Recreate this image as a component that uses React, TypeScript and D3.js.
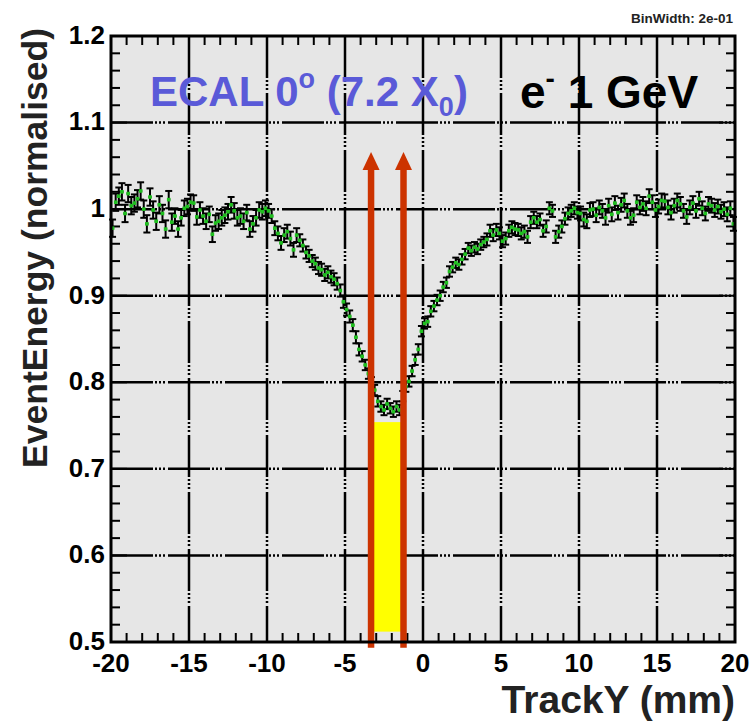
import { useEffect, useRef } from "react";
import * as d3 from "d3";

// bins of 0.2 mm from -20 to 20
const binWidth = 0.2;
const xDomain = [-20, 20];
const yDomain = [0.5, 1.2];

// normalised event energy per bin
const energy = [
  0.978, 1.008, 1.015, 1.020, 0.995, 1.018, 1.004, 1.007, 1.012, 1.021,
  1.000, 0.983, 1.014, 0.999, 0.986, 1.005, 0.995, 0.977, 1.011, 0.985,
  0.992, 0.977, 0.990, 1.001, 1.003, 1.008, 1.007, 0.991, 0.999, 0.992,
  0.986, 0.994, 0.971, 0.984, 0.986, 0.990, 0.993, 0.997, 1.005, 0.998,
  0.990, 0.992, 0.986, 0.996, 0.977, 0.983, 0.990, 0.999, 0.997, 1.001,
  0.998, 0.992, 0.978, 0.972, 0.961, 0.970, 0.974, 0.966, 0.953, 0.970,
  0.964, 0.958, 0.950, 0.946, 0.940, 0.937, 0.932, 0.930, 0.924, 0.927,
  0.922, 0.919, 0.914, 0.906, 0.893, 0.884, 0.876, 0.866, 0.852, 0.838,
  0.830, 0.820, 0.810, 0.800, 0.791, 0.778, 0.772, 0.768, 0.775, 0.770,
  0.766, 0.772, 0.768, 0.784, 0.795, 0.801, 0.813, 0.826, 0.838, 0.859,
  0.868, 0.870, 0.882, 0.888, 0.895, 0.900, 0.910, 0.915, 0.928, 0.933,
  0.938, 0.936, 0.942, 0.948, 0.955, 0.952, 0.956, 0.954, 0.959, 0.962,
  0.965, 0.975, 0.970, 0.976, 0.972, 0.963, 0.966, 0.975, 0.979, 0.977,
  0.976, 0.972, 0.974, 0.968, 0.985, 0.990, 0.985, 0.988, 0.975, 0.980,
  1.001, 0.998, 0.968, 0.974, 0.980, 0.989, 0.995, 0.998, 1.001, 0.996,
  0.995, 0.988, 0.986, 0.999, 1.000, 0.993, 1.002, 0.998, 0.990, 1.004,
  0.994, 1.007, 0.996, 1.005, 1.010, 0.998, 0.990, 0.993, 1.008, 1.002,
  1.006, 1.001, 1.015, 1.008, 0.999, 1.003, 1.010, 1.009, 1.002, 0.996,
  1.004, 1.010, 1.006, 0.998, 0.991, 1.002, 1.007, 0.998, 1.012, 1.001,
  0.995, 1.006, 1.004, 0.999, 1.003, 0.997, 1.000, 0.994, 1.001, 0.983,
];

// error half-height, one value per 2 mm block (10 bins)
const errBlocks = [
  0.010, 0.010, 0.009, 0.009, 0.009, 0.008, 0.007, 0.007, 0.006, 0.006,
  0.006, 0.006, 0.007, 0.007, 0.007, 0.008, 0.008, 0.008, 0.008, 0.008,
];

const xTicks = [-20, -15, -10, -5, 0, 5, 10, 15, 20];
const yTicks = [0.5, 0.6, 0.7, 0.8, 0.9, 1.0, 1.1, 1.2];

// beam position marks
const band = { x0: -3.35, x1: -1.2, y0: 0.512, y1: 0.754 };
const arrowX = [-3.33, -1.25];
const arrowY = [0.4935, 1.066];

const FONT = "'Liberation Sans', Arial, Helvetica, sans-serif";

export default function App() {
  const svgRef = useRef(null);
  const width = 755;
  const height = 724;

  useEffect(() => {
    if (!svgRef.current) return;
    document.body.style.margin = "0";

    const marginLeft = 111;
    const marginRight = 20;
    const marginTop = 36;
    const marginBottom = 82;

    const x = d3.scaleLinear(xDomain, [marginLeft, width - marginRight]);
    const y = d3.scaleLinear(yDomain, [height - marginBottom, marginTop]);

    const svg = d3.select(svgRef.current);

    // frame background
    svg.append("rect")
      .attr("x", x(-20)).attr("y", y(1.2))
      .attr("width", x(20) - x(-20)).attr("height", y(0.5) - y(1.2))
      .attr("fill", "#e6e6e6");

    // grid
    const dash = "42,2,2,2,2,2,2,3";
    svg.append("g").selectAll("line")
      .data(xTicks.slice(1, -1))
      .join("line")
      .attr("x1", d => x(d)).attr("x2", d => x(d))
      .attr("y1", y(1.2)).attr("y2", y(0.5))
      .attr("stroke", "#000").attr("stroke-width", 2.5)
      .attr("stroke-dasharray", dash);
    svg.append("g").selectAll("line")
      .data(yTicks.slice(1, -1))
      .join("line")
      .attr("x1", x(-20)).attr("x2", x(20))
      .attr("y1", d => y(d)).attr("y2", d => y(d))
      .attr("stroke", "#000").attr("stroke-width", 2.5)
      .attr("stroke-dasharray", dash);

    // ticks on all four sides
    const xMinor = d3.range(-20, 20.001, 1);
    const yMinor = d3.range(0.5, 1.2001, 0.02);
    const tickLen = (major: boolean) => (major ? 16 : 9);
    const ticks = svg.append("g").attr("stroke", "#000").attr("stroke-width", 2);
    xMinor.forEach(v => {
      const major = Math.abs(v % 5) < 1e-6;
      ticks.append("line").attr("x1", x(v)).attr("x2", x(v))
        .attr("y1", y(0.5)).attr("y2", y(0.5) - tickLen(major));
      ticks.append("line").attr("x1", x(v)).attr("x2", x(v))
        .attr("y1", y(1.2)).attr("y2", y(1.2) + tickLen(major));
    });
    yMinor.forEach(v => {
      const major = Math.abs(Math.round(v * 10) - v * 10) < 1e-6;
      ticks.append("line").attr("y1", y(v)).attr("y2", y(v))
        .attr("x1", x(-20)).attr("x2", x(-20) + tickLen(major));
      ticks.append("line").attr("y1", y(v)).attr("y2", y(v))
        .attr("x1", x(20)).attr("x2", x(20) - tickLen(major));
    });

    // yellow band
    svg.append("rect")
      .attr("x", x(band.x0)).attr("y", y(band.y1))
      .attr("width", x(band.x1) - x(band.x0))
      .attr("height", y(band.y0) - y(band.y1))
      .attr("fill", "#ffff00");

    // data points with error bars
    const pts = energy.map((v, i) => ({
      x: xDomain[0] + binWidth * (i + 0.5),
      v,
      e: errBlocks[Math.floor(i / 10)],
    }));
    const eb = svg.append("g").attr("stroke", "#000").attr("stroke-width", 2);
    pts.forEach(p => {
      const cx = x(p.x);
      const y0 = y(p.v - p.e);
      const y1 = y(p.v + p.e);
      eb.append("line").attr("x1", cx).attr("x2", cx).attr("y1", y0).attr("y2", y1);
      eb.append("line").attr("x1", cx - 3.5).attr("x2", cx + 3.5).attr("y1", y0).attr("y2", y0);
      eb.append("line").attr("x1", cx - 3.5).attr("x2", cx + 3.5).attr("y1", y1).attr("y2", y1);
      eb.append("line").attr("x1", x(p.x - binWidth / 2)).attr("x2", x(p.x + binWidth / 2))
        .attr("y1", y(p.v)).attr("y2", y(p.v));
    });
    svg.append("g").selectAll("rect")
      .data(pts)
      .join("rect")
      .attr("x", d => x(d.x) - 1.8).attr("y", d => y(d.v) - 1.8)
      .attr("width", 3.6).attr("height", 3.6)
      .attr("fill", "#1fc01f");

    // red arrows
    arrowX.forEach(a => {
      const cx = x(a);
      svg.append("line")
        .attr("x1", cx).attr("x2", cx)
        .attr("y1", y(arrowY[0])).attr("y2", y(arrowY[1]) + 16)
        .attr("stroke", "#cc3300").attr("stroke-width", 6.5);
      svg.append("path")
        .attr("d", `M${cx},${y(arrowY[1])} L${cx - 8.5},${y(arrowY[1]) + 18} L${cx + 8.5},${y(arrowY[1]) + 18} Z`)
        .attr("fill", "#cc3300");
    });

    // frame
    svg.append("rect")
      .attr("x", x(-20)).attr("y", y(1.2))
      .attr("width", x(20) - x(-20)).attr("height", y(0.5) - y(1.2))
      .attr("fill", "none").attr("stroke", "#000").attr("stroke-width", 3);

    // tick labels
    svg.append("g").selectAll("text")
      .data(xTicks)
      .join("text")
      .attr("x", d => x(d)).attr("y", y(0.5) + 30)
      .attr("text-anchor", "middle")
      .attr("font-family", FONT).attr("font-weight", "bold").attr("font-size", 26)
      .text(d => String(d));
    svg.append("g").selectAll("text")
      .data(yTicks)
      .join("text")
      .attr("x", x(-20) - 6).attr("y", d => y(d))
      .attr("dy", "0.3em")
      .attr("text-anchor", "end")
      .attr("font-family", FONT).attr("font-weight", "bold").attr("font-size", 26)
      .text(d => String(+d.toFixed(1)));

    // axis titles
    svg.append("text")
      .attr("x", x(20)).attr("y", 713)
      .attr("text-anchor", "end")
      .attr("font-family", FONT).attr("font-weight", "bold").attr("font-size", 39)
      .attr("fill", "#222")
      .text("TrackY (mm)");
    svg.append("text")
      .attr("transform", `translate(47,${y(1.2) - 8}) rotate(-90)`)
      .attr("text-anchor", "end")
      .attr("font-family", FONT).attr("font-weight", "bold").attr("font-size", 35.5)
      .attr("fill", "#222")
      .text("EventEnergy (normalised)");

    svg.append("text")
      .attr("x", x(20) - 2).attr("y", 23)
      .attr("text-anchor", "end")
      .attr("font-family", FONT).attr("font-weight", "bold").attr("font-size", 13.5)
      .attr("fill", "#222")
      .text("BinWidth: 2e-01");

    // legends inside the frame
    const t1 = svg.append("text")
      .attr("x", 150).attr("y", 106)
      .attr("font-family", FONT).attr("font-weight", "bold").attr("font-size", 42)
      .attr("fill", "#5a5ad8");
    t1.append("tspan").text("ECAL 0");
    t1.append("tspan").attr("font-size", 27).attr("dy", -18).text("o");
    t1.append("tspan").attr("dy", 18).text(" (7.2 X");
    t1.append("tspan").attr("font-size", 27).attr("dy", 10).text("0");
    t1.append("tspan").attr("dy", -10).text(")");

    const t2 = svg.append("text")
      .attr("x", 520).attr("y", 108)
      .attr("font-family", FONT).attr("font-weight", "bold").attr("font-size", 46)
      .attr("fill", "#000");
    t2.append("tspan").text("e");
    t2.append("tspan").attr("font-size", 28).attr("dy", -20).text("-");
    t2.append("tspan").attr("dy", 20).text(" 1 GeV");

    return () => {
      svg.selectAll("*").remove();
    };
  }, []);

  return (
    <svg ref={svgRef} width={width} height={height} viewBox={`0 0 ${width} ${height}`}
      style={{ display: "block", background: "#fff" }}>
    </svg>
  );
}
